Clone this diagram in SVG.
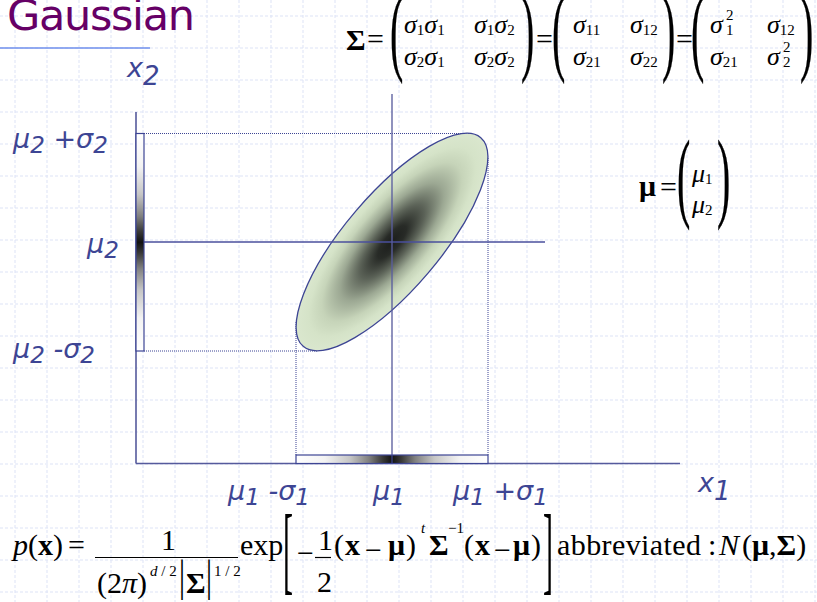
<svg xmlns="http://www.w3.org/2000/svg" width="817" height="602" viewBox="0 0 817 602">
<style>
.grid line{stroke:#dde3f6;stroke-width:1;stroke-dasharray:3 2}
.ax{stroke:#555a9c;stroke-width:1.6;fill:none}
.dot{stroke:#3d4594;stroke-width:1;stroke-dasharray:1 1;fill:none}
.lbl{font-family:"DejaVu Sans",Verdana,sans-serif;font-style:italic;font-size:27px;fill:#3d4594}
.s{font-size:23px}
.m{font-family:"Liberation Serif","Times New Roman",serif;font-size:30px;fill:#000}
.mt{font-family:"Liberation Serif","Times New Roman",serif;font-size:26px;fill:#000}
.sm{font-family:"Liberation Serif","Times New Roman",serif;font-size:15px;fill:#000}
.p{font-family:"Liberation Serif","Times New Roman",serif;font-size:40px;fill:#000;stroke:#000;stroke-width:0.15}
.i{font-style:italic}
.b{font-weight:bold}
</style>
<defs>
<linearGradient id="gv" x1="0" y1="0" x2="0" y2="1">
<stop offset="0" stop-color="#fff"/><stop offset="0.15" stop-color="#f3f3f3"/><stop offset="0.28" stop-color="#c6c6c6"/><stop offset="0.38" stop-color="#808080"/><stop offset="0.45" stop-color="#3a3a3a"/><stop offset="0.5" stop-color="#121212"/><stop offset="0.55" stop-color="#3a3a3a"/><stop offset="0.62" stop-color="#808080"/><stop offset="0.72" stop-color="#c6c6c6"/><stop offset="0.85" stop-color="#f3f3f3"/><stop offset="1" stop-color="#fff"/>
</linearGradient>
<linearGradient id="gh" x1="0" y1="0" x2="1" y2="0">
<stop offset="0" stop-color="#fff"/><stop offset="0.15" stop-color="#f3f3f3"/><stop offset="0.28" stop-color="#c6c6c6"/><stop offset="0.38" stop-color="#808080"/><stop offset="0.45" stop-color="#3a3a3a"/><stop offset="0.5" stop-color="#121212"/><stop offset="0.55" stop-color="#3a3a3a"/><stop offset="0.62" stop-color="#808080"/><stop offset="0.72" stop-color="#c6c6c6"/><stop offset="0.85" stop-color="#f3f3f3"/><stop offset="1" stop-color="#fff"/>
</linearGradient>
<radialGradient id="ge" cx="0.5" cy="0.5" r="0.5">
<stop offset="0" stop-color="#1c1e1c"/><stop offset="0.15" stop-color="#282b27"/><stop offset="0.34" stop-color="#5c6358"/><stop offset="0.54" stop-color="#9ca893"/><stop offset="0.73" stop-color="#c6d4b9"/><stop offset="0.87" stop-color="#d5e3c8"/><stop offset="1" stop-color="#dae7ce"/>
</radialGradient>
</defs>
<rect width="817" height="602" fill="#fff"/>
<g class="grid">
<line x1="15" y1="0" x2="15" y2="602"/><line x1="47" y1="0" x2="47" y2="602"/><line x1="79" y1="0" x2="79" y2="602"/><line x1="111" y1="0" x2="111" y2="602"/><line x1="143" y1="0" x2="143" y2="602"/><line x1="175" y1="0" x2="175" y2="602"/><line x1="207" y1="0" x2="207" y2="602"/><line x1="239" y1="0" x2="239" y2="602"/><line x1="271" y1="0" x2="271" y2="602"/><line x1="303" y1="0" x2="303" y2="602"/><line x1="335" y1="0" x2="335" y2="602"/><line x1="367" y1="0" x2="367" y2="602"/><line x1="399" y1="0" x2="399" y2="602"/><line x1="431" y1="0" x2="431" y2="602"/><line x1="463" y1="0" x2="463" y2="602"/><line x1="495" y1="0" x2="495" y2="602"/><line x1="527" y1="0" x2="527" y2="602"/><line x1="559" y1="0" x2="559" y2="602"/><line x1="591" y1="0" x2="591" y2="602"/><line x1="623" y1="0" x2="623" y2="602"/><line x1="655" y1="0" x2="655" y2="602"/><line x1="687" y1="0" x2="687" y2="602"/><line x1="719" y1="0" x2="719" y2="602"/><line x1="751" y1="0" x2="751" y2="602"/><line x1="783" y1="0" x2="783" y2="602"/><line x1="815" y1="0" x2="815" y2="602"/>
<line x1="0" y1="16" x2="817" y2="16"/><line x1="0" y1="48" x2="817" y2="48"/><line x1="0" y1="80" x2="817" y2="80"/><line x1="0" y1="112" x2="817" y2="112"/><line x1="0" y1="144" x2="817" y2="144"/><line x1="0" y1="176" x2="817" y2="176"/><line x1="0" y1="208" x2="817" y2="208"/><line x1="0" y1="240" x2="817" y2="240"/><line x1="0" y1="272" x2="817" y2="272"/><line x1="0" y1="304" x2="817" y2="304"/><line x1="0" y1="336" x2="817" y2="336"/><line x1="0" y1="368" x2="817" y2="368"/><line x1="0" y1="400" x2="817" y2="400"/><line x1="0" y1="432" x2="817" y2="432"/><line x1="0" y1="464" x2="817" y2="464"/><line x1="0" y1="496" x2="817" y2="496"/><line x1="0" y1="528" x2="817" y2="528"/><line x1="0" y1="560" x2="817" y2="560"/><line x1="0" y1="592" x2="817" y2="592"/>
</g>
<g id="title">
<text x="7" y="30" font-family="DejaVu Sans,Verdana,sans-serif" font-size="43" fill="#660066" textLength="188">Gaussian</text>
<line x1="0" y1="48" x2="150" y2="48" stroke="#6f8fec" stroke-width="1.5"/>
</g>
<g id="connectors">
<line class="dot" x1="144" y1="133.5" x2="470" y2="133.5"/>
<line class="dot" x1="144" y1="351" x2="318" y2="351"/>
<line class="dot" x1="296" y1="322" x2="296" y2="455"/>
<line class="dot" x1="488" y1="158" x2="488" y2="455"/>
</g>
<g id="ellipse">
<ellipse cx="392" cy="242" rx="137" ry="47.6" transform="rotate(-49.6 392 242)" fill="url(#ge)" stroke="#3d4594" stroke-width="1.3"/>
</g>
<g id="axes">
<line class="ax" x1="136" y1="112" x2="136" y2="463.5"/>
<line class="ax" x1="136" y1="463.5" x2="680" y2="463.5"/>
<line x1="144" y1="242" x2="545" y2="242" stroke="#4a4f9c" stroke-width="1.3"/>
<line x1="392" y1="94" x2="392" y2="463" stroke="#5a5e9e" stroke-opacity="0.75" stroke-width="1.8"/>
</g>
<g id="bar-x2">
<rect x="136" y="133.5" width="8" height="217.5" fill="url(#gv)" stroke="#3d4594" stroke-width="1.2"/>
</g>
<g id="bar-x1">
<rect x="296" y="455" width="192" height="8.5" fill="url(#gh)" stroke="#3d4594" stroke-width="1.2"/>
<line x1="392" y1="455" x2="392" y2="463" stroke="#3d4594" stroke-width="1.2"/>
</g>
<g id="labels">
<text class="lbl" x="127" y="77" font-size="32">x<tspan font-size="26" dy="8">2</tspan></text>
<text class="lbl" x="698" y="492" font-size="32">x<tspan font-size="26" dy="8">1</tspan></text>
<text class="lbl" x="13" y="148">μ<tspan class="s" dy="5">2</tspan><tspan dy="-5"> +σ</tspan><tspan class="s" dy="5">2</tspan></text>
<text class="lbl" x="87" y="253">μ<tspan class="s" dy="5">2</tspan></text>
<text class="lbl" x="13" y="358">μ<tspan class="s" dy="5">2</tspan><tspan dy="-5"> -σ</tspan><tspan class="s" dy="5">2</tspan></text>
<text class="lbl" x="228" y="500">μ<tspan class="s" dy="5">1</tspan><tspan dy="-5"> -σ</tspan><tspan class="s" dy="5">1</tspan></text>
<text class="lbl" x="373" y="500">μ<tspan class="s" dy="5">1</tspan></text>
<text class="lbl" x="453" y="500">μ<tspan class="s" dy="5">1</tspan><tspan dy="-5"> +σ</tspan><tspan class="s" dy="5">1</tspan></text>
</g>
<g id="sigma-matrix">
<text class="m b" x="346" y="50" font-size="22">Σ</text>
<text class="m" x="367" y="49" font-size="21">=</text>
<text class="p" transform="translate(390 62.5) scale(1 2.42)">(</text>
<text class="mt i" x="404" y="33">σ<tspan class="sm" font-style="normal" dy="2">1</tspan><tspan dy="-2">σ</tspan><tspan class="sm" font-style="normal" dy="2">1</tspan></text>
<text class="mt i" x="474" y="33">σ<tspan class="sm" font-style="normal" dy="2">1</tspan><tspan dy="-2">σ</tspan><tspan class="sm" font-style="normal" dy="2">2</tspan></text>
<text class="mt i" x="404" y="65">σ<tspan class="sm" font-style="normal" dy="2">2</tspan><tspan dy="-2">σ</tspan><tspan class="sm" font-style="normal" dy="2">1</tspan></text>
<text class="mt i" x="474" y="65">σ<tspan class="sm" font-style="normal" dy="2">2</tspan><tspan dy="-2">σ</tspan><tspan class="sm" font-style="normal" dy="2">2</tspan></text>
<text class="p" transform="translate(521 62.5) scale(1 2.42)">)</text>
<text class="m" x="536" y="49" font-size="21">=</text>
<text class="p" transform="translate(552 62.5) scale(1 2.42)">(</text>
<text class="mt i" x="573" y="33">σ<tspan class="sm" font-style="normal" dy="2">11</tspan></text>
<text class="mt i" x="630" y="33">σ<tspan class="sm" font-style="normal" dy="2">12</tspan></text>
<text class="mt i" x="573" y="65">σ<tspan class="sm" font-style="normal" dy="2">21</tspan></text>
<text class="mt i" x="630" y="65">σ<tspan class="sm" font-style="normal" dy="2">22</tspan></text>
<text class="p" transform="translate(662 62.5) scale(1 2.42)">)</text>
<text class="m" x="676" y="49" font-size="21">=</text>
<text class="p" transform="translate(691 62.5) scale(1 2.42)">(</text>
<text class="mt i" x="710" y="33">σ</text><text class="sm" x="726" y="20">2</text><text class="sm" x="726" y="35">1</text>
<text class="mt i" x="767" y="33">σ<tspan class="sm" font-style="normal" dy="2">12</tspan></text>
<text class="mt i" x="710" y="65">σ<tspan class="sm" font-style="normal" dy="2">21</tspan></text>
<text class="mt i" x="767" y="65">σ</text><text class="sm" x="783" y="52">2</text><text class="sm" x="783" y="67">2</text>
<text class="p" transform="translate(800 62.5) scale(1 2.42)">)</text>
</g>
<g id="mu-vector">
<text class="m b" x="639" y="196" font-size="25">μ</text>
<text class="m" x="660" y="197" font-size="24">=</text>
<text class="p" transform="translate(677 209) scale(1 2.48)">(</text>
<text class="mt i" x="692" y="182">μ<tspan class="sm" font-style="normal" dy="2">1</tspan></text>
<text class="mt i" x="692" y="213">μ<tspan class="sm" font-style="normal" dy="2">2</tspan></text>
<text class="p" transform="translate(717 209) scale(1 2.48)">)</text>
</g>
<g id="formula">
<text class="m" x="13" y="555"><tspan class="i">p</tspan>(<tspan class="b">x</tspan>)</text>
<text class="m" x="68" y="555">=</text>
<line x1="95" y1="557.5" x2="238" y2="557.5" stroke="#000" stroke-width="1.2"/>
<text class="m" x="161" y="550">1</text>
<text class="m" x="97" y="593" textLength="50">(2<tspan class="i">π</tspan>)</text>
<text class="sm" x="150" y="576" font-size="16"><tspan class="i">d</tspan> / 2</text>
<text class="m" font-size="28" transform="translate(179 591) scale(1 1.47)">|</text>
<text class="m b" x="186" y="593">Σ</text>
<text class="m" font-size="28" transform="translate(206 591) scale(1 1.47)">|</text>
<text class="sm" x="214" y="576" font-size="16">1 / 2</text>
<text class="m" x="240" y="555" font-size="29">exp</text>
<text class="m" font-size="34" transform="translate(283 582) scale(1 3.27)">[</text>
<text class="m" x="297" y="563" font-size="28">−</text>
<text class="m" x="318" y="550">1</text>
<line x1="315" y1="557.5" x2="331" y2="557.5" stroke="#000" stroke-width="1.2"/>
<text class="m" x="317" y="592">2</text>
<text class="m" x="334" y="555">(</text>
<text class="m b" x="345" y="555">x</text>
<text class="m" x="365" y="560">−</text>
<text class="m b" x="388" y="555">μ</text>
<text class="m" x="406" y="555">)</text>
<text class="sm i" x="421" y="533" font-size="16">t</text>
<text class="m b" x="429" y="555">Σ</text>
<text class="sm" x="448" y="533" font-size="16">−1</text>
<text class="m" x="464" y="555">(</text>
<text class="m b" x="475" y="555">x</text>
<text class="m" x="494" y="560">−</text>
<text class="m b" x="513" y="555">μ</text>
<text class="m" x="531" y="555">)</text>
<text class="m" font-size="34" transform="translate(543 582) scale(1 3.27)">]</text>
<text class="m" x="557" y="555" textLength="144">abbreviated</text>
<text class="m" x="708" y="555">:</text>
<text class="m i" x="719" y="555">N</text>
<text class="m" x="742" y="555">(<tspan class="b">μ</tspan>,<tspan class="b">Σ</tspan>)</text>
</g>
</svg>
